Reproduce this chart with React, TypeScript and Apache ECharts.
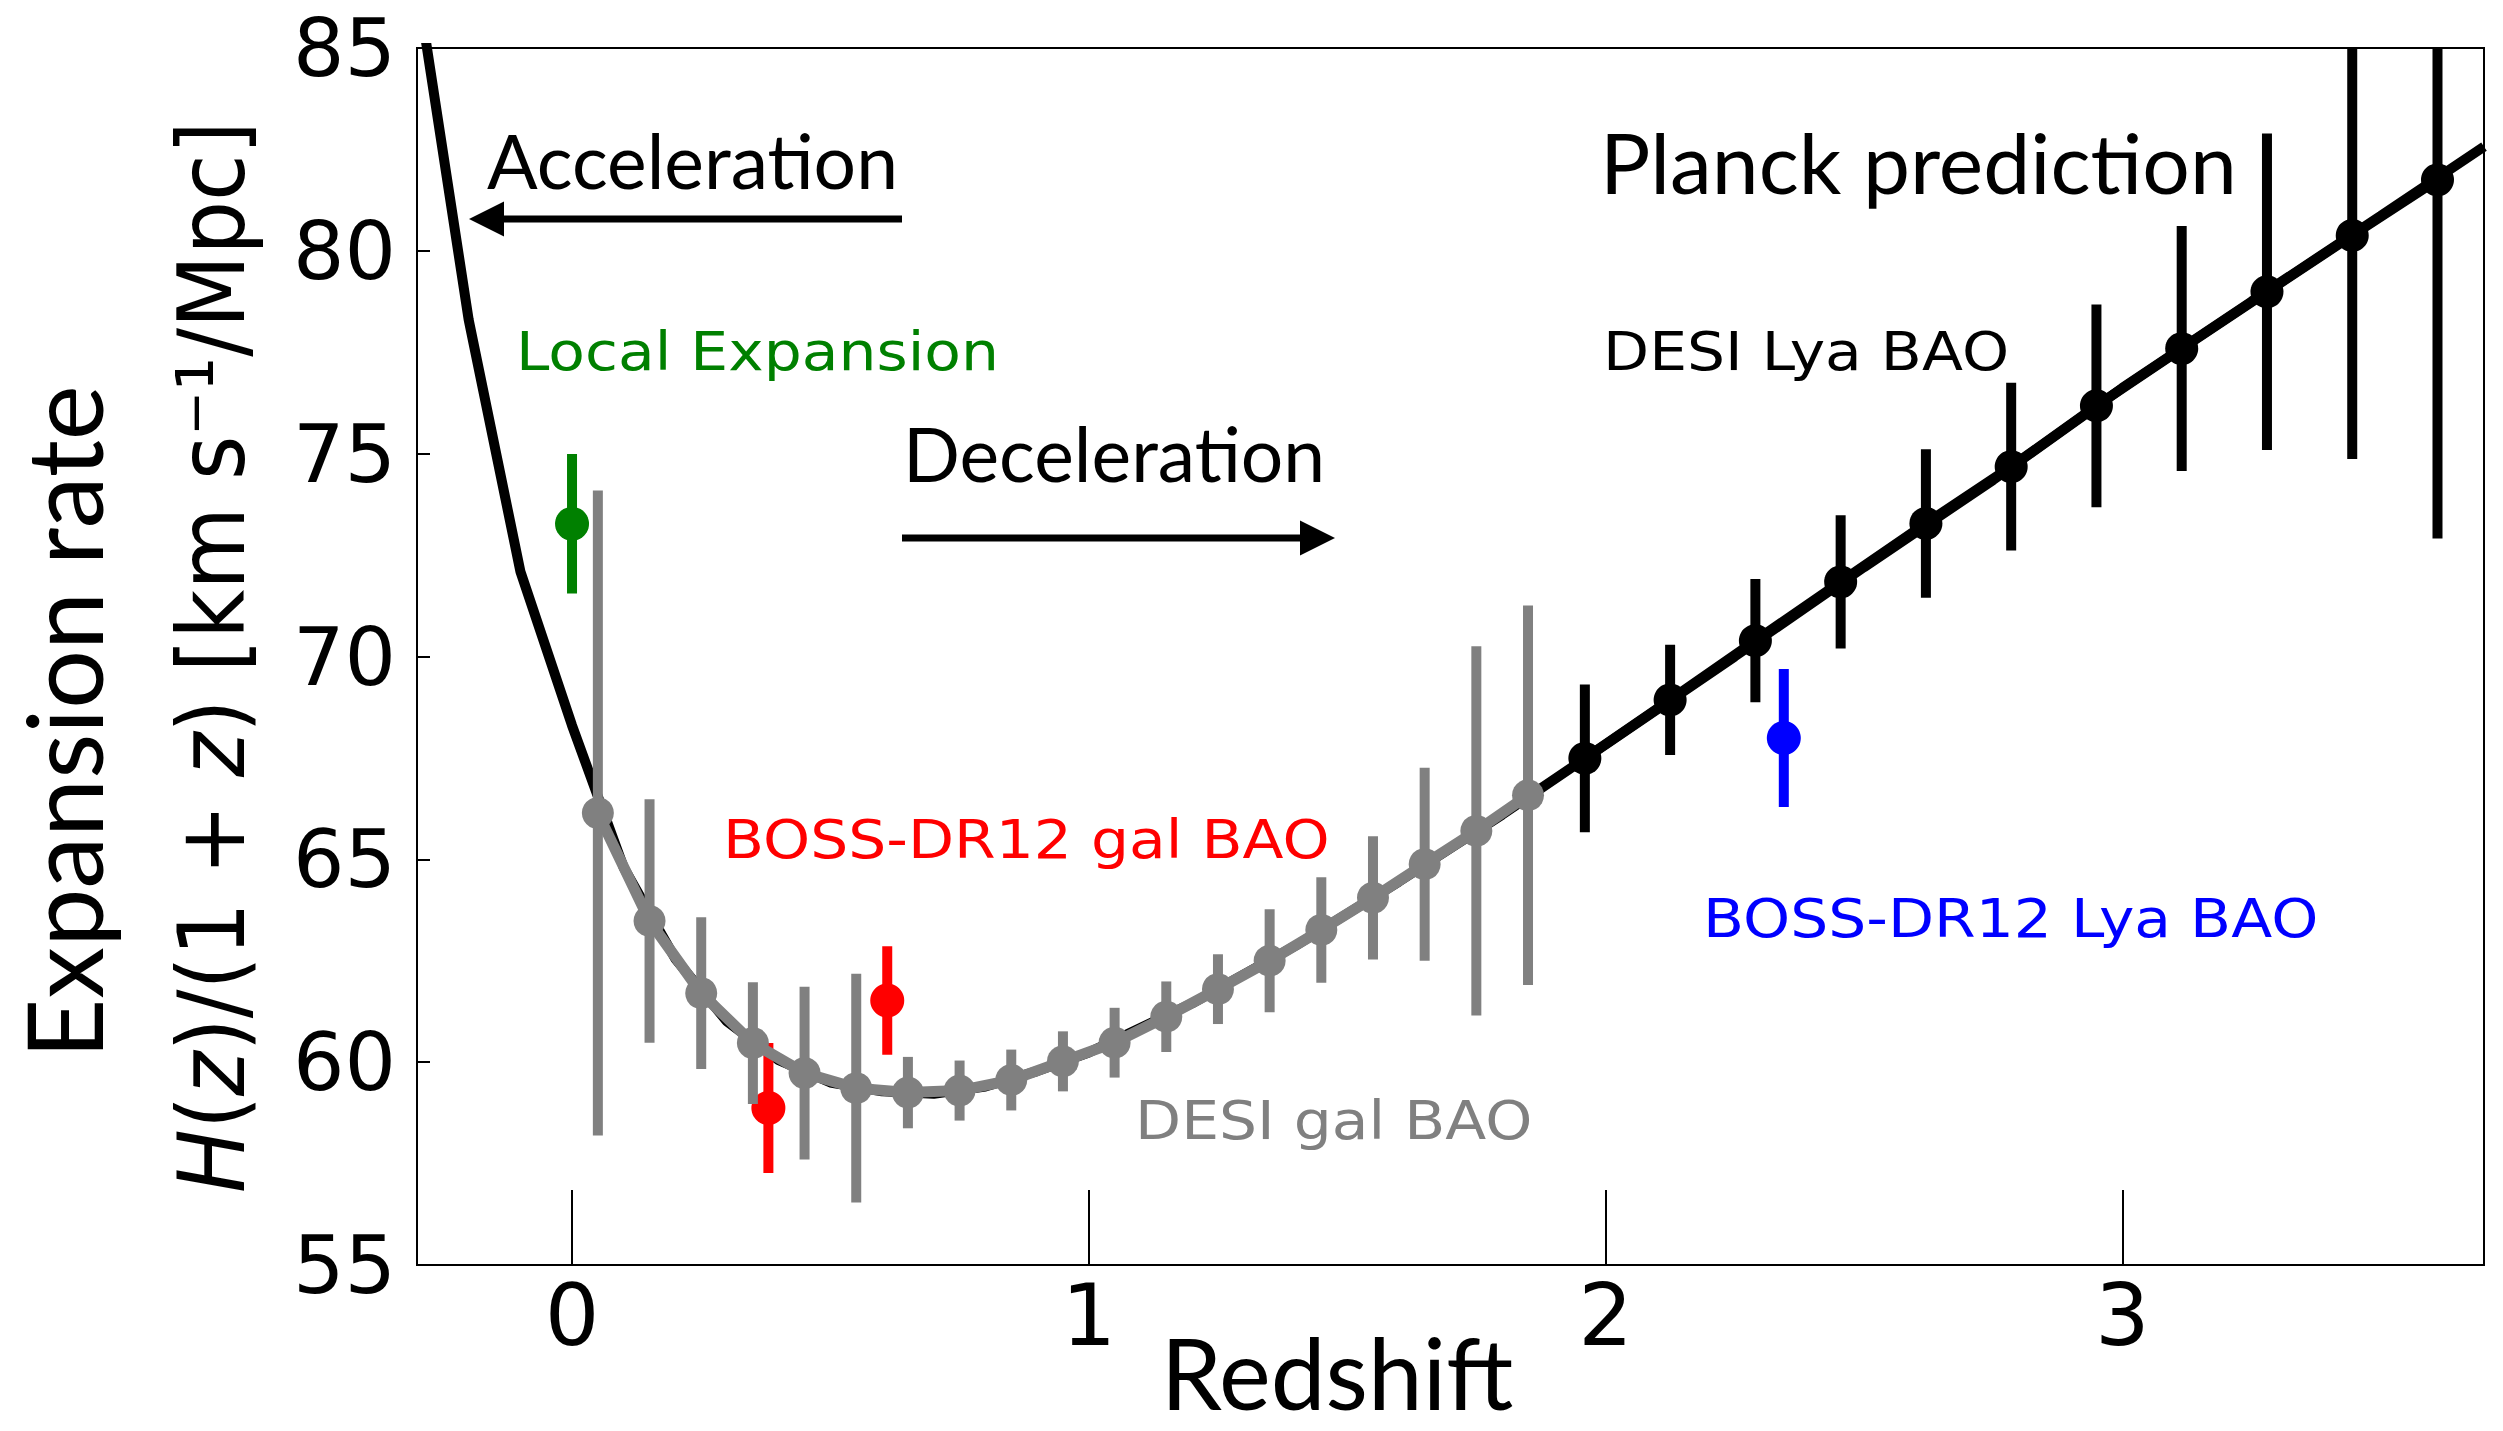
import React, { useEffect, useRef } from "react";
import * as echarts from "echarts";

// Planck LCDM expansion-rate curve H(z)/(1+z)
const curveZ = [-0.3, -0.2, -0.1, 0, 0.1, 0.2, 0.3, 0.4, 0.5, 0.6, 0.7, 0.8, 0.9, 1.0, 1.2, 1.4, 1.6, 1.8, 2.0, 2.25, 2.5, 2.75, 3.0, 3.25, 3.5, 3.7];
const curveH = [86.6, 78.3, 72.1, 68.3, 64.8, 62.55, 61.0, 60.05, 59.5, 59.28, 59.22, 59.4, 59.78, 60.24, 61.45, 62.87, 64.45, 66.1, 67.83, 70.0, 72.2, 74.35, 76.62, 78.75, 80.86, 82.57];

// DESI galaxy BAO forecast
const desiGalZ = [0.05, 0.15, 0.25, 0.35, 0.45, 0.55, 0.65, 0.75, 0.85, 0.95, 1.05, 1.15, 1.25, 1.35, 1.45, 1.55, 1.65, 1.75, 1.85];
const desiGalH = [66.14, 63.48, 61.7, 60.47, 59.73, 59.36, 59.25, 59.3, 59.56, 60.02, 60.48, 61.12, 61.8, 62.5, 63.26, 64.05, 64.88, 65.7, 66.58];
const desiGalErr = [7.95, 3.0, 1.87, 1.5, 2.13, 2.82, 0.88, 0.74, 0.75, 0.74, 0.86, 0.87, 0.86, 1.27, 1.3, 1.52, 2.38, 4.55, 4.68];

// DESI Lyman-alpha BAO forecast
const desiLyaZ = [1.96, 2.125, 2.29, 2.455, 2.62, 2.785, 2.95, 3.115, 3.28, 3.445, 3.61];
const desiLyaH = [67.49, 68.93, 70.39, 71.84, 73.28, 74.68, 76.18, 77.59, 78.99, 80.38, 81.75];
const desiLyaErr = [1.82, 1.36, 1.52, 1.64, 1.83, 2.07, 2.5, 3.02, 3.9, 5.51, 8.84];

// BOSS DR12 galaxy BAO
const bossGalZ = [0.38, 0.61];
const bossGalH = [58.87, 61.52];
const bossGalErr = [1.6, 1.34];

// BOSS DR12 Lyman-alpha BAO
const bossLyaZ = [2.345];
const bossLyaH = [67.99];
const bossLyaErr = [1.7];

// Local distance ladder
const localZ = [0];
const localH = [73.27];
const localErr = [1.72];

const xTicks = [0, 1, 2, 3];
const yTickInterval = 5;

const GRAY = "#808080";
const GREEN = "#008000";
const RED = "#ff0000";
const BLUE = "#0000ff";
const BLACK = "#000000";

const pairs = (xs: number[], ys: number[]) => xs.map((x, i) => [x, ys[i]]);
const triples = (xs: number[], ys: number[], es: number[]) => xs.map((x, i) => [x, ys[i], es[i]]);

function errorBars(name: string, xs: number[], ys: number[], es: number[], color: string, z: number) {
  return {
    type: "custom",
    name,
    z,
    silent: true,
    clip: true,
    dimensions: ["z", "h", "err"],
    encode: { x: 0, y: 1 },
    data: triples(xs, ys, es),
    renderItem: (params: any, api: any) => {
      const x = api.value(0);
      const y = api.value(1);
      const e = api.value(2);
      const top = api.coord([x, y + e]);
      const bot = api.coord([x, y - e]);
      const cs = params.coordSys;
      const y1 = Math.max(cs.y, top[1]);
      const y2 = Math.min(cs.y + cs.height, bot[1]);
      return {
        type: "line",
        shape: { x1: top[0], y1, x2: bot[0], y2 },
        style: { stroke: color, lineWidth: 10, lineCap: "butt" },
      };
    },
  };
}

function markers(name: string, xs: number[], ys: number[], color: string, size: number, z: number) {
  return {
    type: "scatter",
    name,
    z,
    silent: true,
    symbol: "circle",
    symbolSize: size,
    itemStyle: { color, opacity: 1 },
    data: pairs(xs, ys),
  };
}

function connected(name: string, xs: number[], ys: number[], color: string, width: number, size: number, z: number) {
  return {
    type: "line",
    name,
    z,
    silent: true,
    symbol: "circle",
    symbolSize: size,
    showSymbol: true,
    showAllSymbol: true,
    lineStyle: { color, width },
    itemStyle: { color, borderWidth: 0 },
    data: pairs(xs, ys),
  };
}

function label(text: string, x: number, y: number, color: string, size: number, family: string, extra: any = {}) {
  const { style, align, ...rest } = extra;
  return {
    type: "text",
    x,
    y,
    silent: true,
    ...rest,
    style: {
      text,
      fill: color,
      fontSize: size,
      fontFamily: family,
      align: align || "left",
      verticalAlign: "middle",
      textAlign: align || "left",
      textVerticalAlign: "middle",
      ...(style || {}),
    },
  };
}

function arrow(x1: number, x2: number, y: number, dir: 1 | -1) {
  // shaft from x1 to the head base, head pointing towards x2
  const headLen = 35;
  const half = 17.5;
  const base = x2 - dir * headLen;
  return [
    {
      type: "line",
      silent: true,
      shape: { x1, y1: y, x2: base, y2: y },
      style: { stroke: BLACK, lineWidth: 7 },
    },
    {
      type: "polygon",
      silent: true,
      shape: { points: [[x2, y], [base, y - half], [base, y + half]] },
      style: { fill: BLACK },
    },
  ];
}

export default function App() {
  const ref = useRef<HTMLDivElement>(null);

  useEffect(() => {
    if (!ref.current) return;
    const chart = echarts.init(ref.current, undefined, { renderer: "svg" });
    const DV = "DejaVu Sans";
    const GS = "Lato";
    const stretch = 1.11;

    const option: any = {
      animation: false,
      backgroundColor: "#ffffff",
      grid: {
        left: 417,
        top: 48,
        width: 2067,
        height: 1217,
        show: true,
        borderColor: BLACK,
        borderWidth: 2,
        containLabel: false,
      },
      xAxis: {
        type: "value",
        min: -0.3,
        max: 3.7,
        axisLine: { show: true, onZero: false, lineStyle: { color: BLACK, width: 2 } },
        axisTick: {
          show: true,
          inside: true,
          length: 75,
          lineStyle: { color: BLACK, width: 2 },
          customValues: xTicks,
        },
        axisLabel: {
          show: true,
          color: BLACK,
          fontSize: 86,
          fontFamily: DV,
          margin: 7,
          customValues: xTicks,
        },
        splitLine: { show: false },
      },
      yAxis: {
        type: "value",
        min: 55,
        max: 85,
        interval: yTickInterval,
        axisLine: { show: true, onZero: false, lineStyle: { color: BLACK, width: 2 } },
        axisTick: { show: true, inside: true, length: 13, lineStyle: { color: BLACK, width: 2 } },
        axisLabel: { color: BLACK, fontSize: 81, fontFamily: DV, margin: 21, lineHeight: 66 },
        splitLine: { show: false },
      },
      series: [
        {
          type: "line",
          name: "Planck prediction",
          z: 1,
          silent: true,
          symbol: "none",
          showSymbol: false,
          lineStyle: { color: BLACK, width: 10 },
          data: pairs(curveZ, curveH),
        },
        errorBars("BOSS-DR12 gal BAO err", bossGalZ, bossGalH, bossGalErr, RED, 2),
        markers("BOSS-DR12 gal BAO", bossGalZ, bossGalH, RED, 34, 2),
        errorBars("DESI Lya BAO err", desiLyaZ, desiLyaH, desiLyaErr, BLACK, 3),
        connected("DESI Lya BAO", desiLyaZ, desiLyaH, BLACK, 10, 33, 3),
        errorBars("DESI gal BAO err", desiGalZ, desiGalH, desiGalErr, GRAY, 4),
        connected("DESI gal BAO", desiGalZ, desiGalH, GRAY, 11, 32, 4),
        errorBars("Local Expansion err", localZ, localH, localErr, GREEN, 5),
        markers("Local Expansion", localZ, localH, GREEN, 34, 5),
        errorBars("BOSS-DR12 Lya BAO err", bossLyaZ, bossLyaH, bossLyaErr, BLUE, 5),
        markers("BOSS-DR12 Lya BAO", bossLyaZ, bossLyaH, BLUE, 34, 5),
      ],
      graphic: [
        label("Acceleration", 487, 160, BLACK, 75, GS),
        label("Deceleration", 903, 453, BLACK, 75, GS),
        label("Planck prediction", 1600, 161, BLACK, 84, GS),
        label("Local Expansion", 516, 351, GREEN, 54, DV, { scaleX: stretch }),
        label("BOSS-DR12 gal BAO", 723, 839, RED, 54, DV, { scaleX: stretch }),
        label("DESI gal BAO", 1135, 1120, GRAY, 54, DV, { scaleX: stretch }),
        label("BOSS-DR12 Lya BAO", 1703, 918, BLUE, 54, DV, { scaleX: stretch }),
        label("DESI Lya BAO", 1603, 351, BLACK, 54, DV, { scaleX: stretch }),
        label("Redshift", 1337, 1372, BLACK, 98, GS, { align: "center" }),
        label("Expansion rate", 62, 722, BLACK, 104, GS, { align: "center", rotation: Math.PI / 2 }),
        label("{i|H}({i|z})/(1 + {i|z}) [km s⁻¹/Mpc]", 212, 657, BLACK, 85, DV, {
          align: "center",
          rotation: Math.PI / 2,
          scaleY: 1.094,
          style: { rich: { i: { fontStyle: "italic", fontSize: 85, fontFamily: DV, fill: BLACK } } },
        }),
        ...arrow(902, 469, 219, -1),
        ...arrow(902, 1335, 538, 1),
      ],
    };

    chart.setOption(option);
    return () => chart.dispose();
  }, []);

  return (
    <div
      ref={ref}
      style={{ position: "absolute", left: 0, top: 0, width: 2503, height: 1431, background: "#fff" }}
    />
  );
}
